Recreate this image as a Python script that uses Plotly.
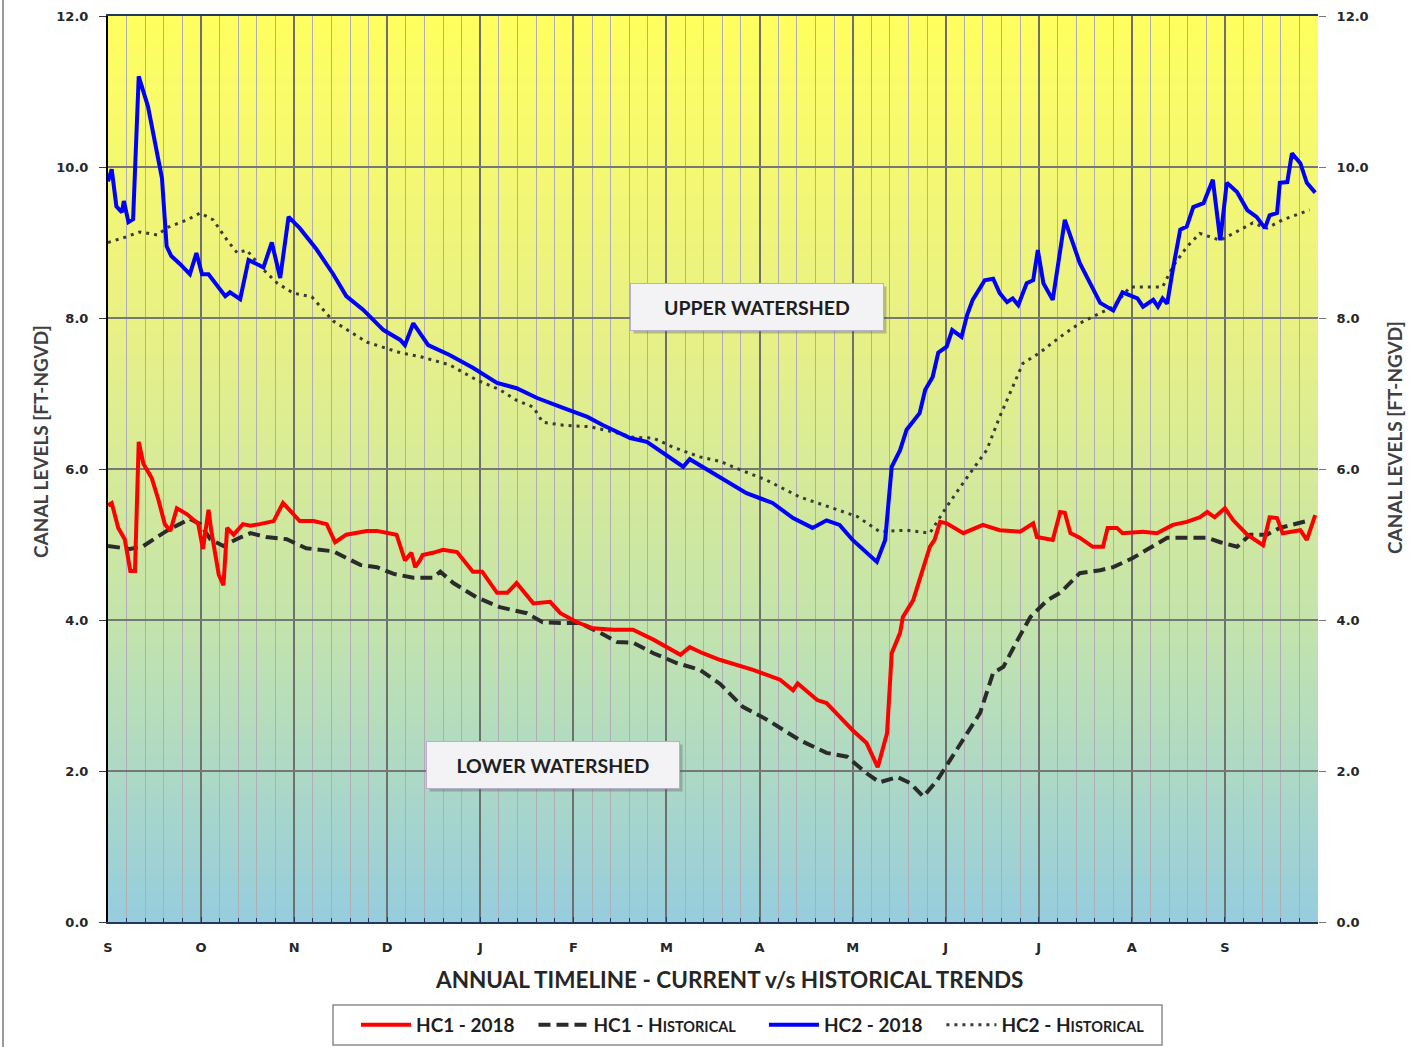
import plotly.graph_objects as go

# ---------------- DATA ----------------
month_labels = ["S", "O", "N", "D", "J", "F", "M", "A", "M", "J", "J", "A", "S"]
y_ticks = [0, 2, 4, 6, 8, 10, 12]

hc1_2018_x = [0.00, 0.04, 0.11, 0.18, 0.24, 0.29, 0.33, 0.38, 0.47, 0.54, 0.61, 0.67, 0.74, 0.85,
              0.97, 1.02, 1.08, 1.11, 1.19, 1.24, 1.28, 1.35, 1.45, 1.53, 1.63, 1.78, 1.88, 1.99,
              2.06, 2.21, 2.35, 2.44, 2.56, 2.78, 2.89, 3.10, 3.19, 3.26, 3.30, 3.35, 3.38, 3.49,
              3.60, 3.75, 3.92, 4.02, 4.18, 4.29, 4.39, 4.57, 4.75, 4.86, 5.04, 5.21, 5.43, 5.64,
              5.86, 6.15, 6.25, 6.39, 6.58, 6.93, 7.22, 7.36, 7.41, 7.62, 7.72, 7.86, 8.00, 8.15,
              8.27, 8.37, 8.42, 8.51, 8.54, 8.65, 8.72, 8.83, 8.88, 8.94, 9.01, 9.19, 9.40, 9.58,
              9.80, 9.94, 9.98, 10.15, 10.23, 10.28, 10.34, 10.44, 10.58, 10.69, 10.74, 10.84,
              10.90, 11.12, 11.27, 11.44, 11.59, 11.73, 11.81, 11.89, 12.00, 12.09, 12.24, 12.41,
              12.48, 12.56, 12.62, 12.81, 12.88, 12.97]
hc1_2018_y = [5.52, 5.55, 5.22, 5.07, 4.65, 4.65, 6.36, 6.07, 5.88, 5.60, 5.27, 5.18, 5.48, 5.40,
              5.27, 4.94, 5.46, 5.18, 4.60, 4.46, 5.22, 5.13, 5.27, 5.25, 5.27, 5.31, 5.55, 5.40,
              5.31, 5.31, 5.27, 5.03, 5.13, 5.18, 5.18, 5.13, 4.79, 4.89, 4.70, 4.79, 4.86, 4.89,
              4.93, 4.90, 4.64, 4.64, 4.36, 4.36, 4.49, 4.22, 4.24, 4.09, 3.97, 3.89, 3.87, 3.87,
              3.74, 3.54, 3.64, 3.56, 3.47, 3.34, 3.21, 3.07, 3.16, 2.94, 2.90, 2.72, 2.54, 2.37,
              2.05, 2.50, 3.56, 3.83, 4.04, 4.26, 4.53, 4.97, 5.06, 5.30, 5.28, 5.15, 5.26, 5.19,
              5.17, 5.28, 5.10, 5.06, 5.43, 5.42, 5.15, 5.09, 4.97, 4.97, 5.22, 5.22,
              5.15, 5.17, 5.15, 5.26, 5.30, 5.36, 5.43, 5.36, 5.48, 5.32, 5.13, 4.99,
              5.36, 5.35, 5.15, 5.19, 5.06, 5.39]

hc1_hist_x = [0.00, 0.24, 0.38, 0.63, 0.77, 0.88, 0.99, 1.10, 1.24, 1.38, 1.53, 1.70, 1.92, 2.13,
              2.42, 2.71, 2.89, 3.07, 3.28, 3.49, 3.57, 3.71, 3.96, 4.21, 4.50, 4.67, 4.86, 5.07,
              5.29, 5.47, 5.64, 5.86, 6.11, 6.36, 6.58, 6.82, 7.08, 7.43, 7.72, 7.94, 8.15, 8.29,
              8.48, 8.62, 8.76, 8.91, 9.05, 9.23, 9.37, 9.51, 9.62, 9.77, 9.91, 10.09, 10.23,
              10.44, 10.66, 10.80, 11.01, 11.16, 11.38, 11.59, 11.81, 11.95, 12.13, 12.27, 12.45,
              12.59, 12.73, 12.91]
hc1_hist_y = [4.98, 4.94, 4.98, 5.18, 5.27, 5.34, 5.27, 5.07, 4.98, 5.07, 5.15, 5.10, 5.07, 4.95,
              4.91, 4.73, 4.70, 4.61, 4.56, 4.56, 4.64, 4.49, 4.30, 4.17, 4.09, 3.97, 3.96, 3.96,
              3.83, 3.71, 3.70, 3.56, 3.43, 3.34, 3.15, 2.85, 2.68, 2.41, 2.24, 2.19, 1.97, 1.85,
              1.92, 1.84, 1.66, 1.88, 2.15, 2.50, 2.77, 3.30, 3.38, 3.73, 4.04, 4.26, 4.36,
              4.62, 4.66, 4.70, 4.82, 4.93, 5.09, 5.09, 5.09, 5.03, 4.97, 5.13, 5.13,
              5.22, 5.26, 5.32]

hc2_2018_x = [0.00, 0.04, 0.09, 0.15, 0.17, 0.22, 0.27, 0.33, 0.43, 0.50, 0.58, 0.63, 0.68, 0.77,
              0.88, 0.95, 1.01, 1.08, 1.26, 1.31, 1.42, 1.51, 1.67, 1.76, 1.85, 1.94, 2.06, 2.24,
              2.42, 2.56, 2.74, 2.96, 3.14, 3.19, 3.28, 3.44, 3.67, 3.92, 4.18, 4.39, 4.61, 4.89,
              5.15, 5.32, 5.61, 5.79, 5.96, 6.18, 6.25, 6.58, 6.86, 7.14, 7.36, 7.57, 7.72, 7.86,
              8.00, 8.26, 8.32, 8.35, 8.42, 8.51, 8.58, 8.72, 8.78, 8.86, 8.92, 9.01, 9.07, 9.17,
              9.23, 9.29, 9.42, 9.51, 9.58, 9.66, 9.72, 9.78, 9.87, 9.94, 9.99, 10.05, 10.15,
              10.28, 10.44, 10.52, 10.66, 10.80, 10.90, 11.06, 11.12, 11.23, 11.28, 11.33, 11.38,
              11.44, 11.52, 11.59, 11.66, 11.77, 11.87, 11.95, 12.02, 12.13, 12.24, 12.34, 12.43,
              12.48, 12.56, 12.59, 12.67, 12.72, 12.81, 12.88, 12.97]
hc2_2018_y = [9.81, 9.97, 9.48, 9.40, 9.55, 9.27, 9.31, 11.20, 10.80, 10.37, 9.85, 8.95, 8.82, 8.72,
              8.58, 8.86, 8.58, 8.58, 8.29, 8.34, 8.25, 8.77, 8.67, 9.00, 8.53, 9.34, 9.19, 8.91,
              8.58, 8.29, 8.11, 7.84, 7.71, 7.64, 7.93, 7.64, 7.51, 7.34, 7.14, 7.07, 6.94, 6.81,
              6.69, 6.58, 6.41, 6.36, 6.22, 6.03, 6.13, 5.89, 5.68, 5.55, 5.35, 5.22, 5.32, 5.26,
              5.06, 4.77, 4.97, 5.06, 6.03, 6.25, 6.52, 6.74, 7.05, 7.22, 7.54, 7.62, 7.84, 7.75,
              8.04, 8.24, 8.50, 8.52, 8.33, 8.21, 8.26, 8.17, 8.46, 8.50, 8.90, 8.46, 8.24,
              9.30, 8.73, 8.54, 8.20, 8.10, 8.34, 8.26, 8.15, 8.24, 8.15, 8.26, 8.19,
              8.64, 9.17, 9.21, 9.47, 9.52, 9.83, 9.03, 9.79, 9.67, 9.43, 9.34, 9.19,
              9.36, 9.39, 9.79, 9.80, 10.18, 10.05, 9.79, 9.66]

hc2_hist_x = [0.00, 0.16, 0.34, 0.53, 0.64, 0.85, 0.99, 1.13, 1.28, 1.39, 1.49, 1.67, 1.82, 1.99,
              2.19, 2.42, 2.78, 3.14, 3.35, 3.67, 3.96, 4.21, 4.39, 4.57, 4.67, 4.89, 5.18, 5.43,
              5.64, 5.86, 6.07, 6.36, 6.58, 6.71, 7.08, 7.43, 7.79, 8.05, 8.29, 8.58, 8.83, 9.01,
              9.23, 9.44, 9.58, 9.77, 9.83, 10.01, 10.23, 10.44, 10.66, 10.80, 10.98, 11.33,
              11.44, 11.59, 11.73, 11.95, 12.09, 12.30, 12.45, 12.62, 12.91]
hc2_hist_y = [9.00, 9.06, 9.14, 9.10, 9.20, 9.30, 9.39, 9.30, 9.03, 8.86, 8.90, 8.64, 8.46, 8.33,
              8.28, 7.96, 7.68, 7.54, 7.49, 7.38, 7.18, 7.05, 6.91, 6.82, 6.62, 6.58, 6.56, 6.49,
              6.42, 6.41, 6.29, 6.16, 6.10, 6.03, 5.85, 5.63, 5.48, 5.37, 5.17, 5.19, 5.15, 5.50,
              5.89, 6.25, 6.69, 7.22, 7.40, 7.54, 7.75, 7.93, 8.07, 8.15, 8.41, 8.41,
              8.68, 8.94, 9.12, 9.03, 9.12, 9.26, 9.19, 9.30, 9.43]

# ---------------- FIGURE ----------------
W, H = 1416, 1047
ML, MR, MT, MB = 108, 98, 16, 125
PW, PH = W - ML - MR, H - MT - MB
FONT = "Lato"
TICKFONT = "DejaVu Sans"
NB = "\u00a0"
SC = "<span style='font-size:14.5px'>ISTORICAL</span>"

fig = go.Figure()

fig.add_trace(go.Scatter(x=hc1_hist_x, y=hc1_hist_y, mode="lines",
                         name="HC1 - H" + SC + NB * 5,
                         line=dict(color="#2b2b2b", width=4, dash="12px,6px")))
fig.add_trace(go.Scatter(x=hc2_hist_x, y=hc2_hist_y, mode="lines",
                         name="HC2 - H" + SC,
                         line=dict(color="#3a3a3a", width=3, dash="3px,5px")))
fig.add_trace(go.Scatter(x=hc1_2018_x, y=hc1_2018_y, mode="lines", name="HC1 - 2018" + NB * 3,
                         line=dict(color="#FF0000", width=4)))
fig.add_trace(go.Scatter(x=hc2_2018_x, y=hc2_2018_y, mode="lines", name="HC2 - 2018" + NB * 3,
                         line=dict(color="#0000FF", width=4)))
# right axis carrier
fig.add_trace(go.Scatter(x=[None], y=[None], yaxis="y2", showlegend=False, hoverinfo="skip"))

# legend order as in reference
fig.data[0].legendrank = 2
fig.data[1].legendrank = 4
fig.data[2].legendrank = 1
fig.data[3].legendrank = 3

# background gradient bands (yellow top -> light blue bottom)
stops = [(0.0, (150, 205, 222)), (4.0, (196, 228, 172)), (8.0, (233, 241, 132)), (12.0, (255, 255, 95))]


def col_at(v):
    for (a, ca), (b, cb) in zip(stops[:-1], stops[1:]):
        if a <= v <= b:
            t = (v - a) / (b - a)
            return "rgb(%d,%d,%d)" % tuple(round(ca[i] + (cb[i] - ca[i]) * t) for i in range(3))
    return "rgb(%d,%d,%d)" % stops[-1][1]


nb = 120
shapes = []
for i in range(nb):
    y0 = 12 * i / nb
    y1 = 12 * (i + 1) / nb
    shapes.append(dict(type="rect", xref="paper", yref="y", x0=0, x1=1, y0=y0, y1=y1 + 0.01,
                       fillcolor=col_at((y0 + y1) / 2), line=dict(width=0), layer="below"))
# outer frame line on the left edge of the image
shapes.append(dict(type="line", xref="paper", yref="paper",
                   x0=-(ML - 3) / PW, x1=-(ML - 3) / PW,
                   y0=-MB / PH, y1=1 + MT / PH,
                   line=dict(color="#9a9a9a", width=2)))
# legend frame
shapes.append(dict(type="rect", xref="paper", yref="paper",
                   x0=(333 - ML) / PW, x1=(1162 - ML) / PW,
                   y0=-(1045 - 922) / PH, y1=-(1005 - 922) / PH,
                   fillcolor="white", line=dict(color="#8c8c8c", width=1.5), layer="below"))

annotations = [
    # axis titles
    dict(text="CANAL LEVELS [FT-NGVD]", xref="paper", yref="paper",
         x=-(ML - 41) / PW, y=(922 - 442) / PH, textangle=-90, xanchor="center",
         showarrow=False, font=dict(family=FONT, size=19, color="#404040", weight="bold")),
    dict(text="CANAL LEVELS [FT-NGVD]", xref="paper", yref="paper",
         x=1 + (1394 - 1318) / PW, y=(922 - 438) / PH, textangle=-90, xanchor="center",
         showarrow=False, font=dict(family=FONT, size=19, color="#404040", weight="bold")),
    dict(text="ANNUAL TIMELINE - CURRENT v/s HISTORICAL TRENDS", xref="paper", yref="paper",
         x=(729 - ML) / PW, y=-(979 - 922) / PH, yanchor="middle",
         showarrow=False, font=dict(family=FONT, size=22.5, color="#262626", weight="bold")),
]

# watershed boxes (shadow + box)
for label, cx, cy in [("UPPER WATERSHED", 6.97, 8.15), ("LOWER WATERSHED", 4.78, 2.08)]:
    annotations.append(dict(text="&nbsp;", x=cx, y=cy, xref="x", yref="y", showarrow=False,
                            width=246, height=40, bgcolor="rgba(90,90,90,0.35)", borderpad=3,
                            xshift=3, yshift=-3, font=dict(size=16)))
    annotations.append(dict(text=label, x=cx, y=cy, xref="x", yref="y", showarrow=False,
                            width=246, height=40, bgcolor="#F3F3F5", bordercolor="#B9AECB",
                            borderwidth=1, borderpad=3,
                            font=dict(family=FONT, size=19.5, color="#1e1e1e", weight="bold")))

fig.update_layout(
    width=W, height=H,
    margin=dict(l=ML, r=MR, t=MT, b=MB, autoexpand=False),
    paper_bgcolor="white",
    plot_bgcolor="rgba(0,0,0,0)",
    shapes=shapes,
    annotations=annotations,
    showlegend=True,
    legend=dict(orientation="h", x=(356 - ML) / PW, xanchor="left",
                y=-(1006 - 922) / PH, yanchor="top",
                bgcolor="rgba(0,0,0,0)", borderwidth=0,
                font=dict(family=FONT, size=19, color="#1e1e1e", weight="bold"),
                itemwidth=50, traceorder="normal", tracegroupgap=0),
    xaxis=dict(range=[0, 13], tickmode="array", tickvals=list(range(len(month_labels))),
               ticktext=month_labels, showgrid=True, gridcolor="#6f6f6f", gridwidth=1.5,
               ticks="inside", ticklen=5, tickcolor="#1f3864", ticklabelstandoff=12,
               showline=True, linecolor="#1f3864", linewidth=2, mirror=True, zeroline=False,
               tickfont=dict(family=TICKFONT, size=13, color="#262626", weight="bold"),
               minor=dict(tickmode="linear", tick0=0, dtick=0.2, showgrid=True,
                          gridcolor="#b0adb6", gridwidth=1.2, ticks="inside", ticklen=4,
                          tickcolor="#1f3864")),
    yaxis=dict(range=[0, 12], tickvals=y_ticks, tickformat=".1f", showgrid=True,
               gridcolor="#777777", gridwidth=1.5, ticks="outside", ticklen=7, tickcolor="#3a3a3a",
               showline=True, linecolor="#000000", linewidth=2, zeroline=False,
               ticklabelstandoff=8,
               tickfont=dict(family=TICKFONT, size=13, color="#262626", weight="bold")),
    yaxis2=dict(range=[0, 12], tickvals=y_ticks, tickformat=".1f", overlaying="y", side="right",
                showgrid=False, ticks="outside", ticklen=7, tickcolor="#777777", showline=False,
                zeroline=False, ticklabelstandoff=8,
                tickfont=dict(family=TICKFONT, size=13, color="#262626", weight="bold")),
)

fig.write_html("out.html", config={"displayModeBar": False},
               post_script="document.body.style.margin='0';")
